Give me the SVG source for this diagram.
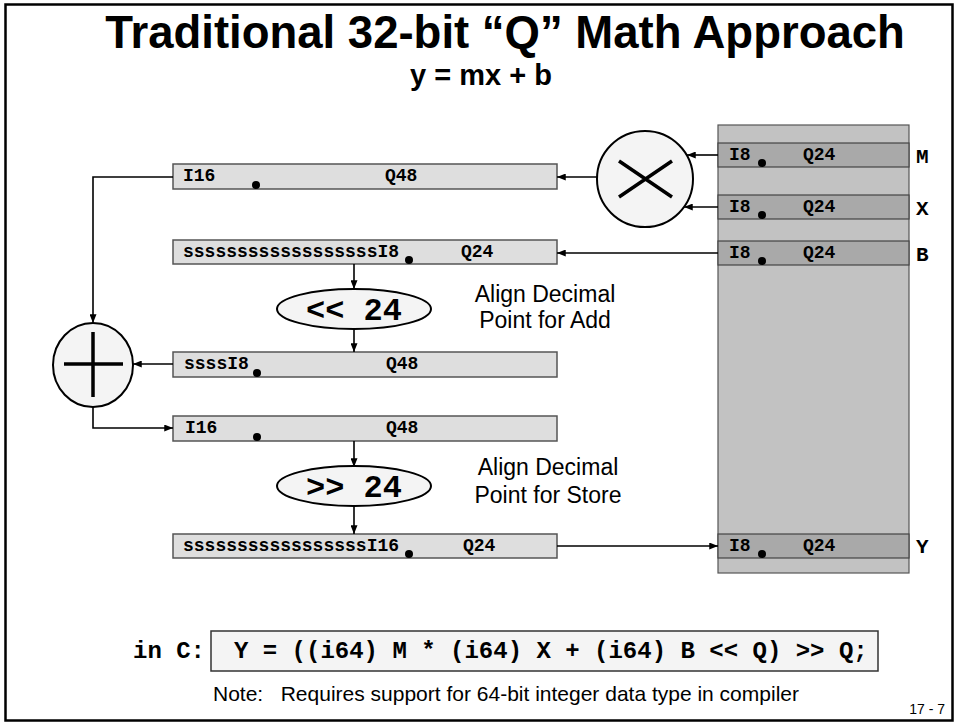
<svg xmlns="http://www.w3.org/2000/svg" width="958" height="723" viewBox="0 0 958 723">
<style>
.title{font-family:"Liberation Sans",Arial,sans-serif;font-weight:bold;fill:#000}
.sans{font-family:"Liberation Sans",Arial,sans-serif;fill:#000}
.mono{font-family:"Liberation Mono","Courier New",monospace;font-weight:bold;fill:#000}
.box{fill:#dedede;stroke:#555;stroke-width:1.5}
.row{fill:#a9a9a9;stroke:#444;stroke-width:1.2}
.op{fill:#f4f4f4;stroke:#000;stroke-width:2}
.sym{stroke:#000;stroke-width:3.5;fill:none}
.conn{stroke:#000;stroke-width:1.6;fill:none}
.dot{fill:#000}
.bt{font-size:18px}
.lbl{font-size:21px}
</style>
<defs>
<marker id="arr" viewBox="0 0 10 8" refX="10" refY="4" markerWidth="9" markerHeight="7" markerUnits="userSpaceOnUse" orient="auto">
<path d="M0,0 L10,4 L0,8 z" fill="#000"/>
</marker>
</defs>
<rect x="5.5" y="4.5" width="947" height="716" fill="#fff" stroke="#000" stroke-width="2.5"/>
<text class="title" x="505" y="48" font-size="45.5" text-anchor="middle">Traditional 32-bit “Q” Math Approach</text>
<text class="title" x="481" y="85" font-size="29" text-anchor="middle">y = mx + b</text>

<g id="memory">
<rect x="718" y="125" width="191" height="448" fill="#c2c2c2" stroke="#555" stroke-width="1.2"/>
</g>
<g id="rowM">
<rect class="row" x="718" y="143" width="191" height="24"/>
<text class="mono bt" x="729" y="160">I8</text><text class="mono bt" x="803" y="160">Q24</text>
<circle class="dot" cx="762" cy="163" r="4"/>
<text class="mono lbl" x="916" y="163">M</text>
</g>
<g id="rowX">
<rect class="row" x="718" y="195" width="191" height="24"/>
<text class="mono bt" x="729" y="212">I8</text><text class="mono bt" x="803" y="212">Q24</text>
<circle class="dot" cx="762" cy="215" r="4"/>
<text class="mono lbl" x="916" y="215">X</text>
</g>
<g id="rowB">
<rect class="row" x="718" y="241" width="191" height="24"/>
<text class="mono bt" x="729" y="258">I8</text><text class="mono bt" x="803" y="258">Q24</text>
<circle class="dot" cx="762" cy="261" r="4"/>
<text class="mono lbl" x="916" y="261">B</text>
</g>
<g id="rowY">
<rect class="row" x="718" y="534" width="191" height="24"/>
<text class="mono bt" x="729" y="551">I8</text><text class="mono bt" x="803" y="551">Q24</text>
<circle class="dot" cx="762" cy="554" r="4"/>
<text class="mono lbl" x="916" y="553">Y</text>
</g>

<g id="multiply">
<circle class="op" cx="645" cy="179" r="48"/>
<path class="sym" d="M619,161 L672,197 M619,197 L672,161" stroke-width="3"/>
</g>
<g id="add">
<ellipse class="op" cx="93" cy="365" rx="40" ry="42"/>
<path class="sym" d="M64,364 L123,364 M93,332 L93,397"/>
</g>

<g id="box1">
<rect class="box" x="173" y="164" width="384" height="25"/>
<text class="mono bt" x="183" y="181">I16</text><text class="mono bt" x="385" y="181">Q48</text>
<circle class="dot" cx="256" cy="185" r="4"/>
</g>
<g id="box2">
<rect class="box" x="173" y="240" width="384" height="24"/>
<text class="mono bt" x="183" y="257">ssssssssssssssssssI8</text><text class="mono bt" x="461" y="257">Q24</text>
<circle class="dot" cx="409" cy="260" r="4"/>
</g>
<g id="shl">
<ellipse class="op" cx="354" cy="309" rx="77" ry="20"/>
<text class="mono" x="354" y="320" font-size="32" text-anchor="middle">&lt;&lt; 24</text>
</g>
<g id="box3">
<rect class="box" x="173" y="352" width="384" height="25"/>
<text class="mono bt" x="184" y="369">ssssI8</text><text class="mono bt" x="386" y="369">Q48</text>
<circle class="dot" cx="257" cy="373" r="4"/>
</g>
<g id="box4">
<rect class="box" x="173" y="416" width="384" height="25"/>
<text class="mono bt" x="185" y="433">I16</text><text class="mono bt" x="386" y="433">Q48</text>
<circle class="dot" cx="257" cy="437" r="4"/>
</g>
<g id="shr">
<ellipse class="op" cx="354" cy="486" rx="77" ry="20"/>
<text class="mono" x="354" y="497" font-size="32" text-anchor="middle">&gt;&gt; 24</text>
</g>
<g id="box5">
<rect class="box" x="173" y="534" width="384" height="24"/>
<text class="mono bt" x="183" y="551">sssssssssssssssssI16</text><text class="mono bt" x="463" y="551">Q24</text>
<circle class="dot" cx="409" cy="554" r="4"/>
</g>

<g id="notes">
<text class="sans" x="545" y="302" font-size="23" text-anchor="middle">Align Decimal</text>
<text class="sans" x="545" y="328" font-size="23" text-anchor="middle">Point for Add</text>
<text class="sans" x="548" y="475" font-size="23" text-anchor="middle">Align Decimal</text>
<text class="sans" x="548" y="503" font-size="23" text-anchor="middle">Point for Store</text>
</g>

<g id="connectors">
<path class="conn" d="M718,155 L687,155" marker-end="url(#arr)"/>
<path class="conn" d="M718,207 L684,207" marker-end="url(#arr)"/>
<path class="conn" d="M597,177 L557,177" marker-end="url(#arr)"/>
<path class="conn" d="M718,253 L557,253" marker-end="url(#arr)"/>
<path class="conn" d="M173,177 L93,177 L93,323" marker-end="url(#arr)"/>
<path class="conn" d="M354,264 L354,289" marker-end="url(#arr)"/>
<path class="conn" d="M354,329 L354,352" marker-end="url(#arr)"/>
<path class="conn" d="M173,364 L133,364" marker-end="url(#arr)"/>
<path class="conn" d="M93,407 L93,428 L173,428" marker-end="url(#arr)"/>
<path class="conn" d="M354,441 L354,467" marker-end="url(#arr)"/>
<path class="conn" d="M354,506 L354,534" marker-end="url(#arr)"/>
<path class="conn" d="M557,546 L718,546" marker-end="url(#arr)"/>
</g>

<g id="code">
<text class="mono" x="133" y="658" font-size="24">in C:</text>
<rect x="211" y="631" width="667" height="40" fill="#f4f4f4" stroke="#333" stroke-width="1.5"/>
<text class="mono" x="234" y="658" font-size="24">Y = ((i64) M * (i64) X + (i64) B &lt;&lt; Q) &gt;&gt; Q;</text>
</g>
<text class="sans" x="213" y="701" font-size="21" xml:space="preserve">Note:   Requires support for 64-bit integer data type in compiler</text>
<text class="sans" x="945" y="714" font-size="14" text-anchor="end">17 - 7</text>
</svg>
